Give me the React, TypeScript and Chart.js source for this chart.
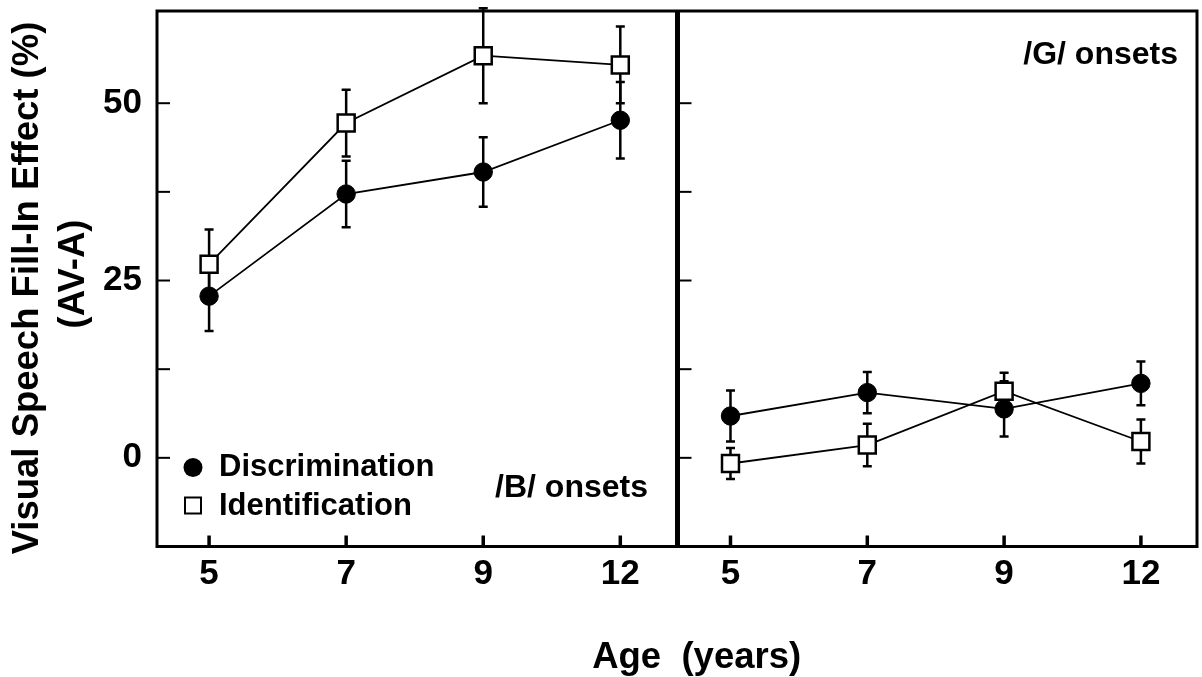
import React, { useEffect, useRef } from 'react';
import { Chart, registerables } from 'chart.js';

Chart.register(...registerables);

// ---------- data ----------
const ages = ['5', '7', '9', '12'];
const ageIndex = [0, 1, 2, 3];

// /B/ onsets panel
const bDisc = [22.8, 37.2, 40.3, 47.6];
const bDiscErr = [4.9, 4.7, 4.9, 5.4];
const bIdent = [27.3, 47.2, 56.7, 55.4];
const bIdentErr = [4.9, 4.7, 6.7, 5.4];

// /G/ onsets panel
const gDisc = [5.9, 9.2, 6.9, 10.5];
const gDiscErr = [3.6, 2.9, 3.9, 3.1];
const gIdent = [-0.8, 1.8, 9.4, 2.3];
const gIdentErr = [2.2, 3.0, 2.6, 3.1];

const yTickValues = [0, 12.5, 25, 37.5, 50];
const yLabelValues = [0, 25, 50];
const yMin = -12.5;
const yMax = 63;
const xMin = -0.38;
const xMax = 3.41;

const seriesNames = ['Discrimination', 'Identification'];
const panelNames = ['/B/ onsets', '/G/ onsets'];
const yTitle = ['Visual Speech Fill-In Effect (%)', '(AV-A)'];
const xTitle = 'Age  (years)';

const FONT = '"Liberation Sans", Arial, Helvetica, sans-serif';

// ---------- plugins ----------
const errorBarPlugin = {
  id: 'errorBars',
  beforeDatasetsDraw(chart: any) {
    const { ctx } = chart;
    const xs = chart.scales.x;
    const ys = chart.scales.y;
    chart.data.datasets.forEach((ds: any) => {
      const errs: number[] = ds.errors;
      if (!errs) return;
      ctx.save();
      ctx.strokeStyle = '#000';
      ctx.lineWidth = 2.5;
      ds.data.forEach((pt: any, j: number) => {
        const px = xs.getPixelForValue(pt.x);
        const top = ys.getPixelForValue(pt.y + errs[j]);
        const bot = ys.getPixelForValue(pt.y - errs[j]);
        ctx.beginPath();
        ctx.moveTo(px, top);
        ctx.lineTo(px, bot);
        ctx.moveTo(px - 4.5, top);
        ctx.lineTo(px + 4.5, top);
        ctx.moveTo(px - 4.5, bot);
        ctx.lineTo(px + 4.5, bot);
        ctx.stroke();
      });
      ctx.restore();
    });
  },
};

const framePlugin = {
  id: 'frame',
  afterDatasetsDraw(chart: any) {
    const { ctx, chartArea: a } = chart;
    const xs = chart.scales.x;
    const ys = chart.scales.y;
    ctx.save();
    ctx.strokeStyle = '#000';
    // inward y ticks
    ctx.lineWidth = 2;
    yTickValues.forEach((v) => {
      const py = ys.getPixelForValue(v);
      ctx.beginPath();
      ctx.moveTo(a.left, py);
      ctx.lineTo(a.left + 13, py);
      ctx.stroke();
    });
    // inward x ticks
    ctx.lineWidth = 3.5;
    ageIndex.forEach((v) => {
      const px = xs.getPixelForValue(v);
      ctx.beginPath();
      ctx.moveTo(px, a.bottom);
      ctx.lineTo(px, a.bottom - 11);
      ctx.stroke();
    });
    // frame
    ctx.lineWidth = 3;
    ctx.strokeRect(a.left, a.top, a.right - a.left, a.bottom - a.top);
    ctx.restore();
  },
};

const annotationPlugin = {
  id: 'panelText',
  afterDraw(chart: any, _args: any, opts: any) {
    const { ctx, chartArea: a } = chart;
    ctx.save();
    ctx.fillStyle = '#000';
    ctx.textBaseline = 'middle';
    ctx.font = `bold 32px ${FONT}`;
    ctx.textAlign = 'right';
    ctx.fillText(opts.label, a.right - opts.dx, a.top + opts.dy);
    if (opts.legend) {
      const lx = a.left + 36;
      const y1 = a.top + 456.5;
      const y2 = a.top + 494.5;
      ctx.beginPath();
      ctx.arc(lx, y1, 9.5, 0, Math.PI * 2);
      ctx.fill();
      ctx.lineWidth = 2;
      ctx.strokeStyle = '#000';
      ctx.strokeRect(lx - 8, y2 - 8, 16, 16);
      ctx.font = `bold 31px ${FONT}`;
      ctx.textAlign = 'left';
      ctx.fillText(seriesNames[0], lx + 26, y1);
      ctx.fillText(seriesNames[1], lx + 26, y2 + 0.5);
    }
    if (opts.yTitle) {
      ctx.font = `bold 36.5px ${FONT}`;
      ctx.textAlign = 'center';
      ctx.save();
      ctx.translate(28, 288);
      ctx.rotate(-Math.PI / 2);
      ctx.fillText(yTitle[0], 0, 0);
      ctx.restore();
      ctx.save();
      ctx.translate(74, 274);
      ctx.rotate(-Math.PI / 2);
      ctx.fillText(yTitle[1], 0, 0);
      ctx.restore();
    }
    ctx.restore();
  },
};

function makeDatasets(disc: number[], discErr: number[], ident: number[], identErr: number[]) {
  return [
    {
      label: seriesNames[1],
      data: ageIndex.map((x, i) => ({ x, y: ident[i] })),
      errors: identErr,
      borderColor: '#000',
      borderWidth: 1.8,
      pointStyle: 'rect',
      pointRadius: 12,
      pointBackgroundColor: '#fff',
      pointBorderColor: '#000',
      pointBorderWidth: 2.5,
      fill: false,
      tension: 0,
      order: 0,
    },
    {
      label: seriesNames[0],
      data: ageIndex.map((x, i) => ({ x, y: disc[i] })),
      errors: discErr,
      borderColor: '#000',
      borderWidth: 1.8,
      pointStyle: 'circle',
      pointRadius: 9.2,
      pointBackgroundColor: '#000',
      pointBorderColor: '#000',
      pointBorderWidth: 1,
      fill: false,
      tension: 0,
      order: 1,
    },
  ];
}

function makeConfig(panel: 'B' | 'G'): any {
  const isLeft = panel === 'B';
  const datasets = isLeft
    ? makeDatasets(bDisc, bDiscErr, bIdent, bIdentErr)
    : makeDatasets(gDisc, gDiscErr, gIdent, gIdentErr);
  return {
    type: 'line',
    data: { datasets },
    plugins: [errorBarPlugin, framePlugin, annotationPlugin],
    options: {
      animation: false,
      responsive: false,
      maintainAspectRatio: false,
      layout: {
        autoPadding: false,
        padding: isLeft
          ? { left: 0, top: 11, right: 3.5, bottom: 0 }
          : { left: 0.5, top: 11, right: 5, bottom: 0 },
      },
      plugins: {
        legend: { display: false },
        tooltip: { enabled: false },
        panelText: isLeft
          ? { label: panelNames[0], dx: 28.5, dy: 477, legend: true, yTitle: true }
          : { label: panelNames[1], dx: 19, dy: 44, legend: false, yTitle: false },
      },
      scales: {
        x: {
          type: 'linear',
          min: xMin,
          max: xMax,
          afterBuildTicks: (s: any) => {
            s.ticks = ageIndex.map((v) => ({ value: v }));
          },
          afterFit: (s: any) => {
            s.height = 130.5;
            s.paddingLeft = 0;
            s.paddingRight = 0;
            s.paddingTop = 0;
            s.paddingBottom = 0;
          },
          ticks: {
            callback: (v: number) => ages[v] ?? '',
            font: { family: FONT, size: 35, weight: 'bold' },
            color: '#000',
            padding: 7,
            autoSkip: false,
            maxRotation: 0,
          },
          grid: { display: false, drawTicks: false },
          border: { display: false },
        },
        y: {
          type: 'linear',
          display: isLeft,
          min: yMin,
          max: yMax,
          afterBuildTicks: (s: any) => {
            s.ticks = yTickValues.map((v) => ({ value: v }));
          },
          afterFit: (s: any) => {
            s.width = isLeft ? 157 : 0;
            s.paddingLeft = 0;
            s.paddingRight = 0;
            s.paddingTop = 0;
            s.paddingBottom = 0;
          },
          ticks: {
            callback: (v: number) => (yLabelValues.includes(v) ? String(v) : ''),
            font: { family: FONT, size: 35, weight: 'bold' },
            color: '#000',
            padding: 15,
          },
          grid: { display: false, drawTicks: false },
          border: { display: false },
          title: { display: false },
        },
      },
    },
  };
}

function Panel({ panel, left, width }: { panel: 'B' | 'G'; left: number; width: number }) {
  const ref = useRef<HTMLCanvasElement | null>(null);
  useEffect(() => {
    if (!ref.current) return;
    const chart = new Chart(ref.current, makeConfig(panel));
    return () => chart.destroy();
  }, [panel]);
  return (
    <canvas
      ref={ref}
      width={width}
      height={677}
      style={{ position: 'absolute', left, top: 0, width, height: 677, display: 'block' }}
    />
  );
}

export default function App() {
  return (
    <div
      style={{
        position: 'absolute',
        left: 0,
        top: 0,
        width: 1202,
        height: 677,
        background: '#fff',
        overflow: 'hidden',
      }}
    >
      <Panel panel="B" left={0} width={680} />
      <Panel panel="G" left={678} width={524} />
      <div
        style={{
          position: 'absolute',
          left: 696.7,
          top: 634.5,
          transform: 'translateX(-50%)',
          font: `bold 36.5px ${FONT}`,
          lineHeight: '42px',
          color: '#000',
          whiteSpace: 'pre',
        }}
      >
        {xTitle}
      </div>
    </div>
  );
}
